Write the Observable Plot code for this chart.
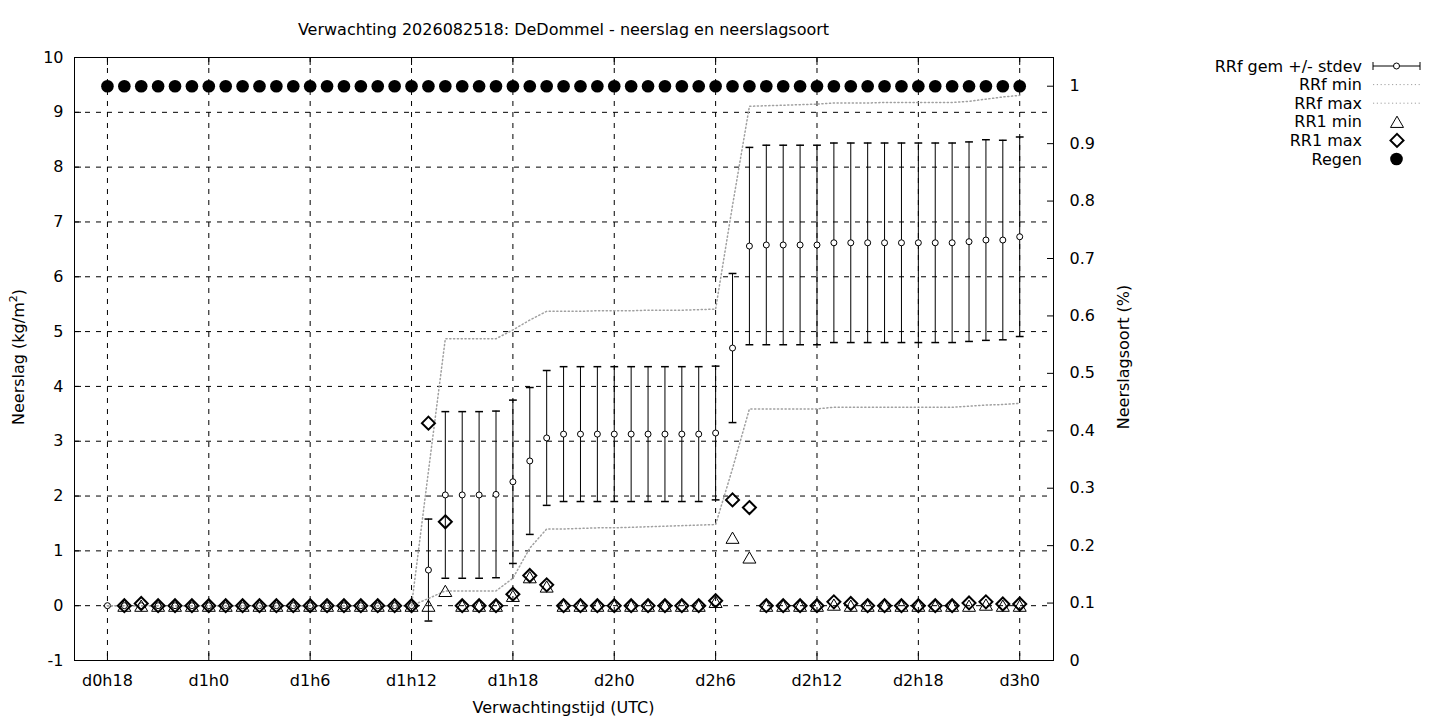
<!DOCTYPE html>
<html>
<head>
<meta charset="utf-8">
<script src="https://cdn.jsdelivr.net/npm/d3@7"></script>
<script src="https://cdn.jsdelivr.net/npm/@observablehq/plot@0.6"></script>
<style>
  body { margin: 0; background: #fff; }
  #chart { width: 1440px; height: 720px; }
</style>
</head>
<body>
<div id="chart"></div>
<script>
// forecast hours since d0h0
const hours = [18,19,20,21,22,23,24,25,26,27,28,29,30,31,32,33,34,35,36,
  37,38,39,40,41,42,43,44,45,46,47,48,49,50,51,52,53,54,55,56,
  57,58,59,60,61,62,63,64,65,66,67,68,69,70,71,72]

const rrfMean = [0,0,0,0,0,0,0,0,0,0,0,0,0,0,0,0,0,0,0,
  0.65,2.02,2.02,2.02,2.03,2.26,2.64,3.06,
  3.13,3.13,3.13,3.13,3.13,3.13,3.13,3.13,3.13,
  3.15,4.70,6.56,
  6.58,6.58,6.58,6.58,
  6.62,6.62,6.62,6.62,6.62,6.62,6.62,6.62,
  6.64,6.67,6.67,6.73]
const rrfStdev = [0,0,0,0,0,0,0,0,0,0,0,0,0,0,0,0,0,0,0,
  0.93,1.52,1.52,1.52,1.52,1.49,1.34,1.23,
  1.23,1.23,1.23,1.23,1.23,1.23,1.23,1.23,1.23,
  1.22,1.36,1.80,
  1.82,1.82,1.82,1.82,
  1.82,1.82,1.82,1.82,1.82,1.82,1.82,1.82,
  1.82,1.83,1.82,1.82]
const rrfMin = [0,0,0,0,0,0,0,0,0,0,0,0,0,0,0,0,0,0,0,
  0.13,0.27,0.27,0.27,0.27,0.50,1.05,1.40,
  1.40,1.41,1.42,1.42,1.43,1.44,1.45,1.46,1.47,
  1.48,2.50,3.59,
  3.59,3.59,3.59,3.59,
  3.62,3.62,3.62,3.62,3.62,3.62,3.62,3.62,
  3.64,3.66,3.67,3.69]
const rrfMax = [0,0,0,0,0,0,0,0,0,0,0,0,0,0,0,0,0,0,0,
  2.45,4.87,4.87,4.87,4.87,5.03,5.21,5.37,
  5.37,5.37,5.38,5.38,5.38,5.39,5.39,5.39,5.40,
  5.41,7.30,9.11,
  9.12,9.13,9.14,9.15,
  9.17,9.17,9.17,9.18,9.18,9.18,9.18,9.18,
  9.20,9.24,9.28,9.31]
const rr1Min = [null,0,0,0,0,0,0,0,0,0,0,0,0,0,0,0,0,0,0,
  0,0.27,0,0,0,0.18,0.52,0.35,
  0,0,0,0,0,0,0,0,0,
  0.07,1.24,0.88,
  0,0,0,0,
  0.02,0,0,0,0,0,0,0,
  0,0.02,0,0]
const rr1Max = [null,0,0.04,0,0,0,0,0,0,0,0,0,0,0,0,0,0,0,0,
  3.33,1.53,0,0,0,0.21,0.55,0.38,
  0,0,0,0,0,0,0,0,0,
  0.09,1.93,1.79,
  0,0,0,0,
  0.07,0.04,0,0,0,0,0,0,
  0.05,0.07,0.03,0.03]
// neerslagsoort, fraction on the right axis
const regen = [1,1,1,1,1,1,1,1,1,1,1,1,1,1,1,1,1,1,1,
  1,1,1,1,1,1,1,1,1,1,1,1,1,1,1,1,1,1,1,1,
  1,1,1,1,1,1,1,1,1,1,1,1,1,1,1,1]

const xTicks = [18,24,30,36,42,48,54,60,66,72]
const xTickLabels = ["d0h18","d1h0","d1h6","d1h12","d1h18","d2h0","d2h6","d2h12","d2h18","d3h0"]
const yTicks = [-1,0,1,2,3,4,5,6,7,8,9,10]
const y2Ticks = [0,0.1,0.2,0.3,0.4,0.5,0.6,0.7,0.8,0.9,1]
const y2Labels = ["0","0.1","0.2","0.3","0.4","0.5","0.6","0.7","0.8","0.9","1"]
const seriesNames = ["RRf gem +/- stdev","RRf min","RRf max","RR1 min","RR1 max","Regen"]

// y2 [0, 1.05] drawn on the same pixels as y [-1, 10]
const toLeft = v => -1 + v * 11 / 1.05
const y2TicksLeft = y2Ticks.map(toLeft)

const rrf = hours.map((h, i) => ({h, mean: rrfMean[i], sd: rrfStdev[i], min: rrfMin[i], max: rrfMax[i]}))
const rr1 = hours.map((h, i) => ({h, min: rr1Min[i], max: rr1Max[i]})).filter(d => d.min != null)
const soort = hours.map((h, i) => ({h, v: toLeft(regen[i])}))

// gnuplot-like point shapes
const cap = {draw(ctx, size) { const w = Math.sqrt(size / Math.PI); ctx.moveTo(-w, 0); ctx.lineTo(w, 0) }}
const tri = {draw(ctx, size) {
  const w = Math.sqrt(size / Math.PI), h = w * Math.sqrt(3) / 2
  ctx.moveTo(0, -h); ctx.lineTo(w, h); ctx.lineTo(-w, h); ctx.closePath()
}}
const dia = {draw(ctx, size) {
  const w = Math.sqrt(size / Math.PI)
  ctx.moveTo(0, -w); ctx.lineTo(w, 0); ctx.lineTo(0, w); ctx.lineTo(-w, 0); ctx.closePath()
}}

const grid = {stroke: "black", strokeOpacity: 1, strokeDasharray: "5,6"}
const dotted = {stroke: "#a0a0a0", strokeDasharray: "1.2,2.6"}
const font = "DejaVu Sans"

let chart = Plot.plot({
  width: 1440,
  height: 720,
  marginLeft: 74,
  marginRight: 387,
  marginTop: 57,
  marginBottom: 60,
  style: {fontFamily: font, fontSize: "16px", color: "black", background: "white"},
  x: {domain: [16.05, 74.0]},
  y: {domain: [-1, 10]},
  marks: [
    Plot.gridY({ticks: yTicks, ...grid}),
    Plot.gridX({ticks: xTicks, ...grid}),
    Plot.frame({stroke: "black"}),
    Plot.axisY({ticks: yTicks, anchor: "left", tickSize: -7, tickPadding: 18, label: null,
      tickFormat: d => String(d)}),
    Plot.axisY({ticks: y2TicksLeft, anchor: "right", tickSize: -7, tickPadding: 23, label: null,
      tickFormat: d => y2Labels[y2TicksLeft.indexOf(d)]}),
    Plot.axisX({ticks: xTicks, anchor: "bottom", tickSize: -7, tickPadding: 21, label: null,
      tickFormat: d => xTickLabels[xTicks.indexOf(d)]}),
    Plot.axisX({ticks: xTicks, anchor: "top", tickSize: -7, label: null, tickFormat: () => ""}),
    // RRf gem +/- stdev
    Plot.ruleX(rrf, {x: "h", y1: d => d.mean - d.sd, y2: d => d.mean + d.sd, stroke: "black"}),
    Plot.dot(rrf, {x: "h", y: d => d.mean + d.sd, symbol: cap, r: 3.9, stroke: "black", fill: "none"}),
    Plot.dot(rrf, {x: "h", y: d => d.mean - d.sd, symbol: cap, r: 3.9, stroke: "black", fill: "none"}),
    Plot.dot(rrf, {x: "h", y: "mean", r: 3, fill: "white", stroke: "black", strokeWidth: 1}),
    // RRf min / max
    Plot.line(rrf, {x: "h", y: "min", ...dotted}),
    Plot.line(rrf, {x: "h", y: "max", ...dotted}),
    // RR1 min / max
    Plot.dot(rr1, {x: "h", y: "min", symbol: tri, r: 6.5, stroke: "black", strokeWidth: 1, fill: "none"}),
    Plot.dot(rr1, {x: "h", y: "max", symbol: dia, r: 6.5, stroke: "black", strokeWidth: 2, fill: "none"}),
    // Regen
    Plot.dot(soort, {x: "h", y: "v", r: 6.3, fill: "black", stroke: "none"})
  ]
})
d3.select('#chart').append(() => chart)

// titles and labels
const svg = d3.select(chart)
const txt = (x, y, s) => svg.append("text")
  .attr("x", x).attr("y", y).attr("text-anchor", "middle")
  .attr("font-family", font).attr("font-size", 16).attr("fill", "black").text(s)

txt(563.5, 34.5, "Verwachting 2026082518: DeDommel - neerslag en neerslagsoort")
txt(563.5, 712.5, "Verwachtingstijd (UTC)")

const yl = svg.append("text").attr("transform", "translate(24,357) rotate(-90)")
  .attr("text-anchor", "middle").attr("font-family", font).attr("font-size", 16)
yl.append("tspan").text("Neerslag (kg/m")
yl.append("tspan").attr("font-size", 11).attr("dy", -7).text("2")
yl.append("tspan").attr("dy", 7).text(")")

svg.append("text").attr("transform", "translate(1129,357) rotate(-90)")
  .attr("text-anchor", "middle").attr("font-family", font).attr("font-size", 16)
  .text("Neerslagsoort (%)")

// legend
const lg = svg.append("g")
seriesNames.forEach((name, i) => {
  const y = 66 + i * 18.6
  lg.append("text").attr("x", 1362).attr("y", y).attr("dy", "0.35em").attr("text-anchor", "end")
    .attr("font-family", font).attr("font-size", 16).text(name)
  if (i === 0) {
    lg.append("path").attr("d", `M1373,${y}H1420M1373,${y - 4}V${y + 4}M1420,${y - 4}V${y + 4}`)
      .attr("stroke", "black").attr("fill", "none")
    lg.append("circle").attr("cx", 1396.5).attr("cy", y).attr("r", 3).attr("fill", "white").attr("stroke", "black")
  } else if (i < 3) {
    lg.append("path").attr("d", `M1373,${y}H1420`).attr("stroke", dotted.stroke).attr("stroke-dasharray", dotted.strokeDasharray)
  } else if (i === 3) {
    const w = 6.5, h = w * Math.sqrt(3) / 2
    lg.append("path").attr("d", `M1397,${y - h}L${1397 + w},${y + h}L${1397 - w},${y + h}Z`)
      .attr("stroke", "black").attr("fill", "none")
  } else if (i === 4) {
    lg.append("path").attr("d", `M1397,${y - 6.5}L1403.5,${y}L1397,${y + 6.5}L1390.5,${y}Z`)
      .attr("stroke", "black").attr("stroke-width", 2).attr("fill", "none")
  } else {
    lg.append("circle").attr("cx", 1396.5).attr("cy", y).attr("r", 6.3).attr("fill", "black")
  }
})
</script>
</body>
</html>
